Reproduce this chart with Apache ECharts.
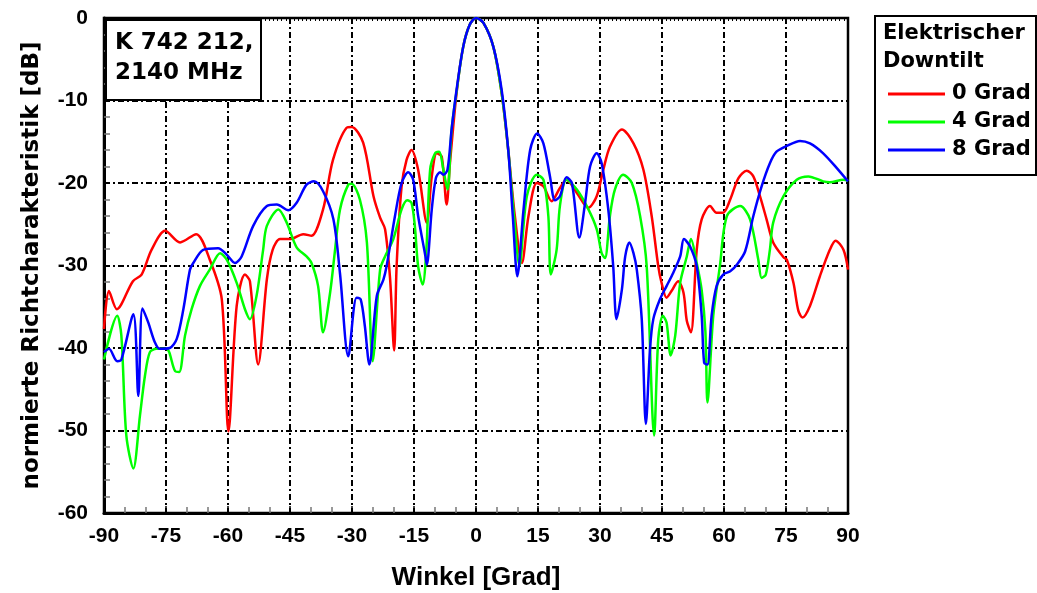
<!DOCTYPE html>
<html>
<head>
<meta charset="utf-8">
<script src="https://cdn.jsdelivr.net/npm/echarts@6/dist/echarts.min.js"></script>
<style>
  html, body { margin: 0; padding: 0; background: #fff; }
  #chart { width: 1037px; height: 593px; }
</style>
</head>
<body>
<div id="chart"></div>
<script>
// Antennendiagramm K 742 212 bei 2140 MHz: normierte Richtcharakteristik über dem Winkel
const xTicks = [-90, -75, -60, -45, -30, -15, 0, 15, 30, 45, 60, 75, 90];
const yTicks = [0, -10, -20, -30, -40, -50, -60];
const seriesNames = ['0 Grad', '4 Grad', '8 Grad'];
const seriesColors = ['#ff0000', '#00ff00', '#0000ff'];

// 0 Grad Downtilt
const angle0 = [-90, -88.8, -86.9, -83, -80.9, -78.5, -75.2, -71.6, -67.7, -64.4, -61.5, -59.9, -57.9, -55.9, -54.7, -52.7, -50.6, -49.2, -47.4, -45, -41.8, -39.8, -37, -34.6, -31.3, -30.1, -27.3, -24.8, -23.2, -22, -20.8, -19.8, -19.2, -18, -16.8, -15.6, -14, -11.9, -10.7, -9.5, -8.3, -7.1, -6.3, -4.7, -3.1, -1.5, 0, 1.8, 4.2, 6.2, 7.8, 9.4, 11.1, 12.7, 14.7, 16.3, 18.3, 20.3, 21.9, 24.4, 27.2, 29.2, 30.8, 32.4, 35.3, 38.1, 40.5, 42.5, 44.1, 44.9, 46.1, 47.3, 48.9, 50.2, 51.0, 52.0, 53.4, 54.6, 56.6, 58.2, 59.8, 61.5, 63.5, 65.5, 67.1, 68.7, 70.3, 71.9, 74.4, 75.2, 76.8, 78, 79, 80.8, 83.2, 85.6, 87, 88.9, 90];
const db0 = [-37.7, -33.1, -35.3, -31.9, -31.1, -28.1, -25.8, -27.2, -26.2, -29.3, -34.1, -50.1, -34.9, -31.1, -31.9, -42.0, -31.7, -28.1, -26.8, -26.8, -26.2, -26.4, -23.2, -17.2, -13.3, -13.2, -15.1, -21.6, -24.2, -25.6, -31.5, -40.3, -30, -20.4, -17.2, -16.0, -18.4, -24.8, -19.2, -16.4, -16.8, -22.6, -17.6, -9.1, -3.5, -0.8, 0, -0.6, -3.5, -9.1, -16, -24, -29.7, -24, -20, -20.4, -22.2, -20.6, -19.6, -21.2, -23, -21.6, -18.4, -15.6, -13.5, -15.2, -18.4, -24, -30.1, -32.1, -33.9, -33.1, -31.9, -33.3, -36.7, -38.1, -28.1, -24.4, -22.8, -23.6, -23.6, -22, -19.4, -18.5, -19.2, -21.6, -24.4, -27.2, -29.0, -29.3, -32.1, -35.5, -36.3, -34.9, -31.3, -28.1, -27, -28.1, -30.5];

// 4 Grad Downtilt
const angle4 = [-90, -86.8, -85.8, -84.6, -82.9, -81.3, -80.1, -78.9, -77.3, -74.9, -72.8, -71.8, -70.4, -68.8, -66.8, -64.4, -61.9, -60.3, -57.9, -55.9, -54.7, -53.1, -51.5, -50.6, -47.8, -45.8, -43.4, -41, -39.8, -38.2, -37, -35.3, -34.1, -32.9, -30.9, -30.1, -28.1, -26.4, -25, -23.2, -22, -20, -18, -16.6, -15.6, -14.8, -14, -12.9, -12, -11.1, -9.9, -8.9, -7.9, -6.9, -5.9, -4.7, -3.1, -1.5, 0, 1.8, 4.2, 6.2, 7.8, 9.2, 10.5, 12.3, 14.7, 16.3, 17.5, 18.1, 19.5, 20.3, 21.9, 24.4, 27.2, 29.2, 30.4, 31.2, 32.4, 33.6, 35.6, 37.7, 39.7, 41.3, 43.1, 44.1, 45.2, 46.1, 47.1, 48.2, 49.4, 51, 52, 53.4, 54.6, 55.5, 56, 57.4, 59, 60.7, 63.9, 66.3, 68.3, 69.1, 70.1, 71.1, 71.9, 74.4, 77.6, 80.4, 84, 85.6, 88.9, 90];
const db4 = [-41.4, -36.1, -38.5, -50.6, -54.6, -48.2, -43.4, -40.5, -40.1, -40.1, -42.8, -42.9, -38.5, -35.3, -32.5, -30.5, -28.5, -29.3, -32.1, -35.3, -36.5, -33.7, -28.1, -25.2, -23.2, -24.8, -27.8, -28.9, -29.7, -32.5, -38.1, -33.3, -28.1, -23.2, -20.2, -20.1, -22, -27.2, -41.6, -30.5, -28.9, -26.8, -23.2, -22.1, -22.4, -25.2, -30.1, -32.3, -28, -18.4, -16.4, -16.2, -18.4, -20.8, -13.5, -8.9, -3.5, -0.8, 0, -0.6, -3.5, -9.1, -16, -24, -30, -21.6, -19, -19.6, -24, -31.1, -28.1, -22.8, -19.6, -20.8, -23.2, -25.6, -28.5, -29.1, -24, -20.8, -19, -20, -24, -30.1, -50.6, -38.9, -36.1, -36.9, -40.9, -38.5, -32.1, -28.9, -26.8, -29.7, -33, -38, -46.6, -36.1, -30.1, -24, -22.8, -24.4, -29.3, -31.5, -31.1, -28.1, -24.8, -21.6, -19.6, -19.2, -19.8, -19.9, -19.6, -19.7];

// 8 Grad Downtilt
const angle8 = [-90, -88.8, -86.8, -85.8, -82.9, -81.7, -80.7, -79.3, -77.7, -76.5, -74.1, -72.4, -70.8, -69.2, -68.4, -66, -62.4, -60.3, -58.3, -56.7, -53.9, -50.6, -48.2, -45.4, -43.4, -41, -39.2, -37, -34.5, -32.9, -30.9, -28.9, -27.9, -26.9, -25.8, -24, -22.4, -21.6, -19.6, -18, -16.4, -15.2, -14, -12.3, -11.9, -10.7, -9.7, -8.7, -7.9, -6.9, -5.9, -4.7, -3.1, -1.5, 0, 1.8, 4.2, 6.2, 7.8, 8.9, 10, 11.5, 13.1, 14.8, 16.3, 17.9, 19.1, 20.3, 21.9, 23.2, 25, 26.4, 27.6, 29.2, 30.4, 32, 33.2, 34, 35.3, 36.1, 37.1, 38.1, 38.9, 40.1, 41.1, 42.1, 42.9, 44.5, 46.1, 47.7, 49.4, 50.3, 51.8, 53.4, 54.6, 55.2, 56, 57, 58.2, 59.8, 61.5, 63.1, 65.1, 67.1, 69.1, 71.1, 72.7, 75.2, 78.4, 80.8, 84, 87.3, 90];
const db8 = [-40.5, -40.1, -41.6, -41.4, -35.9, -45.8, -35.2, -36.9, -39.3, -40.1, -40, -38.9, -35.3, -30.5, -29.7, -28.1, -27.9, -28.7, -29.7, -28.9, -25.2, -22.8, -22.6, -23.3, -22.4, -20.2, -19.8, -21, -24.4, -31, -41, -33.9, -34.1, -37.3, -42, -33.7, -31.7, -30, -24, -20, -18.7, -19.6, -24, -28.7, -29.9, -23.2, -19.4, -18.7, -19, -18.4, -13.5, -8.7, -3.5, -0.8, 0, -0.6, -3.5, -8.7, -16, -24, -31.3, -23.2, -16, -14, -15.2, -19.2, -22.1, -21.6, -19.3, -20, -26.6, -22.4, -18, -16.4, -17.6, -23.2, -30.1, -36.5, -32.9, -28.9, -27.2, -28.5, -30.5, -36.5, -49.2, -40.1, -36.5, -34.1, -32.5, -30.9, -28.9, -26.8, -27.7, -30.1, -36.1, -41.8, -42, -36.1, -32.5, -31.1, -30.7, -29.9, -28.3, -24, -20.4, -17.6, -16.2, -15.5, -14.9, -15.2, -16.4, -18.2, -19.8];

const angles = [angle0, angle4, angle8];
const levels = [db0, db4, db8];

const WIDE = 'DejaVu Sans';
const NARROW = 'Liberation Sans';
const chart = echarts.init(document.getElementById('chart'), null, { renderer: 'canvas' });

const gridLine = { show: true, lineStyle: { color: '#000', width: 2, type: [6, 3, 2, 3] } };

const option = {
  backgroundColor: '#fff',
  animation: false,
  grid: {
    left: 104, right: 189, top: 18, bottom: 80,
    outerBoundsMode: 'none', containLabel: false,
    show: true, borderColor: '#000', borderWidth: 2.5, backgroundColor: 'transparent'
  },
  legend: {
    data: seriesNames,
    orient: 'vertical',
    left: 883, top: 78,
    icon: 'rect',
    itemWidth: 57, itemHeight: 3,
    itemGap: 6,
    textStyle: { fontFamily: WIDE, fontWeight: 'bold', fontSize: 21, color: '#000', lineHeight: 22, padding: [0, 0, 0, 2] }
  },
  graphic: [
    { type: 'rect', left: 874, top: 15, shape: { width: 161, height: 159 }, style: { fill: '#fff', stroke: '#000', lineWidth: 2 }, z: 0 },
    { type: 'text', left: 883, top: 20, style: { text: 'Elektrischer\nDowntilt', font: 'bold 21px "DejaVu Sans"', lineHeight: 28, fill: '#000' }, z: 1 },
    { type: 'rect', left: 105, top: 19, shape: { width: 155, height: 80 }, style: { fill: '#fff', stroke: '#000', lineWidth: 2 }, z: 10 },
    { type: 'text', left: 115, top: 28, style: { text: 'K 742 212,\n2140 MHz', font: 'bold 23px "DejaVu Sans"', lineHeight: 30, fill: '#000' }, z: 11 }
  ],
  xAxis: [
    {
      type: 'value', min: -90, max: 90, interval: 15,
      name: 'Winkel [Grad]', nameLocation: 'middle', nameGap: 52,
      nameTextStyle: { fontFamily: NARROW, fontWeight: 'bold', fontSize: 26, color: '#000' },
      axisLine: { show: true, onZero: false, lineStyle: { color: '#000', width: 3 } },
      axisTick: { show: true, inside: true, length: 7, lineStyle: { color: '#000', width: 1.5 } },
      minorTick: { show: true, splitNumber: 3, length: 6, lineStyle: { color: '#777', width: 1.5 } },
      axisLabel: { margin: 13, fontFamily: NARROW, fontWeight: 'bold', fontSize: 21, color: '#000',
        formatter: v => (xTicks.includes(v) ? String(v) : '') },
      splitLine: gridLine
    },
    {
      type: 'value', min: -90, max: 90, interval: 1, position: 'bottom',
      axisLine: { show: false },
      axisTick: { show: true, inside: false, length: 3, lineStyle: { color: '#000', width: 1 } },
      axisLabel: { show: false },
      splitLine: { show: false }
    }
  ],
  yAxis: {
    type: 'value', min: -60, max: 0, interval: 10,
    name: 'normierte Richtcharakteristik [dB]', nameLocation: 'middle', nameGap: 60,
    nameTextStyle: { fontFamily: WIDE, fontWeight: 'bold', fontSize: 23, color: '#000' },
    axisLine: { show: true, onZero: false, lineStyle: { color: '#000', width: 3 } },
    axisTick: { show: true, inside: true, length: 6, lineStyle: { color: '#000', width: 1.5 } },
    minorTick: { show: true, splitNumber: 5, length: 6, lineStyle: { color: '#777', width: 1.5 } },
    axisLabel: { margin: 16, fontFamily: NARROW, fontWeight: 'bold', fontSize: 21, color: '#000',
      formatter: v => (yTicks.includes(v) ? String(v) : '') },
    splitLine: gridLine
  },
  series: seriesNames.map((name, i) => ({
    name,
    type: 'line',
    xAxisIndex: 0,
    data: angles[i].map((a, k) => [a, levels[i][k]]),
    showSymbol: false,
    smooth: 0.3,
    lineStyle: { color: seriesColors[i], width: 2.5 },
    itemStyle: { color: seriesColors[i] },
    z: 3 + i
  }))
};

chart.setOption(option);
</script>
</body>
</html>
